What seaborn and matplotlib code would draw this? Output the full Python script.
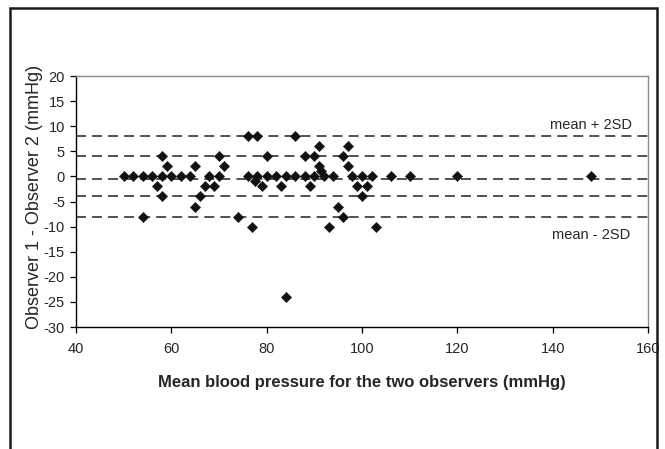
import matplotlib
matplotlib.use("Agg")
import matplotlib.pyplot as plt
import seaborn as sns
import pandas as pd
from matplotlib.patches import Rectangle

# Data
mean_bp = [50, 52, 54, 56, 58, 60, 62, 64,
           58, 59, 57, 58, 54,
           65, 66, 65,
           70, 71, 68, 70, 67, 69, 74,
           76, 78, 80, 76, 78, 80, 82, 84, 86, 77.5, 79, 83, 77, 84,
           86, 91, 97, 88, 90, 96, 91, 97, 91.5, 88, 90, 92, 94, 98, 100, 102, 106,
           89, 99, 101, 100, 95, 96, 93, 103,
           110, 120, 148]
diff_bp = [0, 0, 0, 0, 0, 0, 0, 0,
           4, 2, -2, -4, -8,
           2, -4, -6,
           4, 2, 0, 0, -2, -2, -8,
           8, 8, 4, 0, 0, 0, 0, 0, 0, -1, -2, -2, -10, -24,
           8, 6, 6, 4, 4, 4, 2, 2, 1, 0, 0, 0, 0, 0, 0, 0, 0,
           -2, -2, -2, -4, -6, -8, -10, -10,
           0, 0, 0]
ref_lines = [8, 4, -0.5, -4, -8]
upper_label = "mean + 2SD"
lower_label = "mean - 2SD"
x_ticks = [40, 60, 80, 100, 120, 140, 160]
y_ticks = [-30, -25, -20, -15, -10, -5, 0, 5, 10, 15, 20]

df = pd.DataFrame({"x": mean_bp, "y": diff_bp})

sns.set_style("white")
plt.rcParams["font.family"] = ["Liberation Sans", "DejaVu Sans"]
plt.rcParams["axes.unicode_minus"] = False

fig = plt.figure(figsize=(6.65, 4.49), dpi=100)
ax = fig.add_axes([76 / 665, 1 - 327 / 449, (648 - 76) / 665, (327 - 76) / 449])

for v in ref_lines:
    ax.axhline(v, color="#222222", lw=1.1, dashes=(6.5, 4.0), zorder=1)

sns.scatterplot(data=df, x="x", y="y", marker="D", color="#111111", s=28,
                edgecolor="#111111", linewidth=0.3, ax=ax, zorder=3, legend=False)

ax.set_xlim(40, 160)
ax.set_ylim(-30, 20)
ax.set_xticks(x_ticks)
ax.set_yticks(y_ticks)
ax.set_xticklabels([str(t) for t in x_ticks])
ax.set_yticklabels([str(t) for t in y_ticks])
ax.tick_params(axis="both", which="both", direction="out", length=4, width=0.9,
               color="black", labelsize=10.5, left=True, bottom=True)
ax.tick_params(axis="x", pad=7)
ax.tick_params(axis="y", pad=4)

for side in ["left", "bottom"]:
    ax.spines[side].set_color("black")
    ax.spines[side].set_linewidth(1.0)
for side in ["top", "right"]:
    ax.spines[side].set_visible(True)
    ax.spines[side].set_color("#8c8c8c")
    ax.spines[side].set_linewidth(1.0)

ax.set_xlabel("Mean blood pressure for the two observers (mmHg)",
              fontsize=12, fontweight="bold")
ax.xaxis.set_label_coords(0.5, -0.19)
ax.set_ylabel("Observer 1 - Observer 2 (mmHg)", fontsize=13)
ax.yaxis.set_label_coords(-0.057, 0.52)

ax.text(148, 10.2, upper_label, ha="center", va="center", fontsize=10.5)
ax.text(148, -11.6, lower_label, ha="center", va="center", fontsize=10.5)

# Outer frame (open at bottom)
fig.patches.append(Rectangle((10 / 665, -0.2), (657 - 10) / 665, 1.2 - 8 / 449,
                             transform=fig.transFigure, fill=False,
                             edgecolor="#1a1a1a", linewidth=1.8, clip_on=False))

fig.savefig("out.png", dpi=100)
